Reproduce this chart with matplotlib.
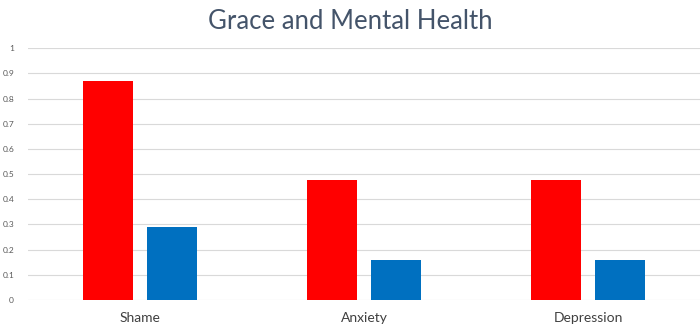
import numpy as np
import matplotlib
matplotlib.use("Agg")
import matplotlib.pyplot as plt

categories = ["Shame", "Anxiety", "Depression"]
series_red = [0.87, 0.475, 0.475]
series_blue = [0.29, 0.157, 0.157]
y_ticks = [0, 0.1, 0.2, 0.3, 0.4, 0.5, 0.6, 0.7, 0.8, 0.9, 1]
y_tick_labels = ["0", "0.1", "0.2", "0.3", "0.4", "0.5", "0.6", "0.7", "0.8", "0.9", "1"]
title = "Grace and Mental Health"

plt.rcParams["font.family"] = ["Lato", "DejaVu Sans"]

fig = plt.figure(figsize=(7.0, 3.26), dpi=100)
ax = fig.add_axes([0.04, 0.0798, 0.96, 0.772])

x = np.arange(len(categories))
width = 0.223
offset = 0.1428
ax.bar(x - offset, series_red, width, color="#FF0000", zorder=3)
ax.bar(x + offset, series_blue, width, color="#0070C0", zorder=3)

ax.set_xlim(-0.5, len(categories) - 0.5)
ax.set_ylim(0, 1)
ax.set_yticks(y_ticks)
ax.set_yticklabels(y_tick_labels, fontsize=6, color="#595959")
ax.set_xticks(x)
ax.set_xticklabels(categories, fontsize=10, color="#404040")
ax.tick_params(axis="both", length=0)
ax.tick_params(axis="y", pad=10)
ax.tick_params(axis="x", pad=9)

ax.grid(axis="y", color="#D9D9D9", linewidth=0.8, zorder=0)
for s in ax.spines.values():
    s.set_visible(False)

fig.text(0.5, 0.935, title, ha="center", va="center", fontsize=18.5, color="#44546A")

fig.savefig("out.png", dpi=100, facecolor="white")
